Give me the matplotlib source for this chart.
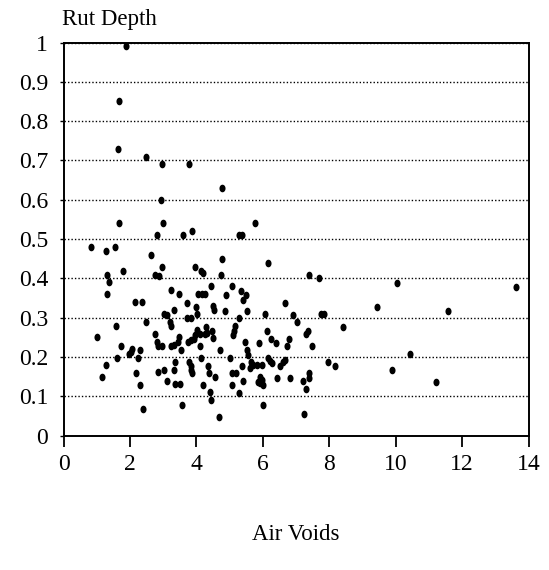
import matplotlib
matplotlib.use("Agg")
import matplotlib.pyplot as plt
import numpy as np

# air voids (%) and rut depth readings
air_voids = [
    1.88, 1.66, 1.64, 2.48, 2.96, 3.78, 4.78, 2.94, 1.66, 3.01,
    5.78, 2.81, 3.60, 3.88, 5.27, 5.37, 0.82, 1.28, 1.54, 2.64,
    4.77, 6.17, 1.79, 1.30, 1.38, 1.31, 2.76, 2.86, 2.96, 3.96,
    4.14, 4.21, 4.74, 7.39, 7.70, 4.44, 5.08, 3.23, 3.48, 4.06,
    4.16, 4.26, 4.90, 5.34, 5.49, 5.39, 2.16, 2.36, 3.73, 3.99,
    4.49, 4.54, 4.86, 3.32, 5.53, 6.66, 9.43, 3.04, 3.11, 4.03,
    6.07, 6.92, 7.74, 7.84, 2.48, 3.71, 3.85, 5.27, 3.21, 3.25,
    1.57, 4.29, 5.15, 7.02, 8.42, 5.12, 5.10, 4.01, 3.96, 3.93,
    2.75, 3.49, 4.11, 4.26, 4.33, 4.46, 4.51, 1.00, 2.81, 2.84,
    2.96, 3.24, 3.33, 3.46, 3.76, 3.83, 4.11, 5.45, 5.89, 6.14,
    6.24, 6.40, 6.80, 6.72, 7.30, 7.37, 7.48, 3.54, 1.72, 2.05,
    2.02, 1.97, 2.30, 4.71, 5.53, 5.56, 1.62, 2.25, 3.36, 3.79,
    3.83, 3.84, 3.88, 4.13, 4.34, 4.37, 5.02, 1.27, 1.17, 2.18,
    2.84, 3.03, 3.34, 4.56, 5.07, 5.18, 5.37, 5.63, 5.70, 5.62,
    5.82, 5.97, 6.17, 6.22, 6.27, 6.52, 6.60, 6.66, 7.96, 8.16,
    2.30, 3.11, 3.37, 3.51, 4.20, 5.08, 5.40, 5.92, 5.97, 5.92,
    6.00, 5.86, 6.43, 6.81, 7.20, 7.30, 7.39, 7.40, 4.42, 4.43,
    5.28, 3.56, 2.40, 4.67, 6.02, 7.25, 10.03, 11.57, 13.62, 10.44,
    9.90, 11.20,
]
rut_depth = [
    0.99, 0.85, 0.73, 0.71, 0.69, 0.69, 0.63, 0.60, 0.54, 0.54,
    0.54, 0.51, 0.51, 0.52, 0.51, 0.51, 0.48, 0.47, 0.48, 0.46,
    0.45, 0.44, 0.42, 0.41, 0.39, 0.36, 0.41, 0.406, 0.43, 0.43,
    0.42, 0.413, 0.41, 0.41, 0.40, 0.38, 0.38, 0.37, 0.36, 0.36,
    0.36, 0.36, 0.357, 0.369, 0.358, 0.346, 0.34, 0.34, 0.338, 0.328,
    0.33, 0.32, 0.317, 0.32, 0.317, 0.337, 0.327, 0.31, 0.307, 0.31,
    0.31, 0.307, 0.31, 0.31, 0.289, 0.299, 0.299, 0.299, 0.288, 0.278,
    0.279, 0.277, 0.28, 0.288, 0.277, 0.267, 0.255, 0.269, 0.256, 0.245,
    0.258, 0.25, 0.258, 0.258, 0.26, 0.266, 0.248, 0.25, 0.239, 0.229,
    0.229, 0.229, 0.231, 0.239, 0.239, 0.243, 0.229, 0.238, 0.237, 0.266,
    0.247, 0.237, 0.247, 0.227, 0.258, 0.267, 0.227, 0.218, 0.229, 0.221,
    0.213, 0.207, 0.218, 0.218, 0.218, 0.206, 0.198, 0.198, 0.188, 0.188,
    0.177, 0.167, 0.159, 0.198, 0.178, 0.16, 0.198, 0.179, 0.15, 0.16,
    0.162, 0.168, 0.167, 0.15, 0.16, 0.16, 0.177, 0.188, 0.18, 0.171,
    0.18, 0.18, 0.197, 0.19, 0.184, 0.178, 0.187, 0.193, 0.188, 0.177,
    0.129, 0.14, 0.131, 0.131, 0.13, 0.13, 0.139, 0.15, 0.142, 0.133,
    0.129, 0.137, 0.148, 0.148, 0.138, 0.118, 0.16, 0.147, 0.11, 0.09,
    0.108, 0.079, 0.069, 0.048, 0.078, 0.056, 0.388, 0.316, 0.378, 0.208,
    0.167, 0.137,
]

x_ticks = [0, 2, 4, 6, 8, 10, 12, 14]
y_ticks = [0, 0.1, 0.2, 0.3, 0.4, 0.5, 0.6, 0.7, 0.8, 0.9, 1]
y_tick_labels = ["0", "0.1", "0.2", "0.3", "0.4", "0.5", "0.6", "0.7", "0.8", "0.9", "1"]

plt.rcParams["font.family"] = ["Liberation Serif", "DejaVu Serif"]

# slightly tall oval dot
t = np.linspace(0, 2 * np.pi, 40)
oval = list(zip(0.8 * np.cos(t), np.sin(t)))

fig = plt.figure(figsize=(5.49, 5.70), dpi=100)
ax = fig.add_axes([0.1157, 0.2356, 0.8470, 0.6898])

ax.scatter(air_voids, rut_depth, s=30, c="black", marker=oval,
           linewidths=0, zorder=3)

ax.set_xlim(0, 14)
ax.set_ylim(0, 1)
ax.set_xticks(x_ticks)
ax.set_xticklabels([str(t) for t in x_ticks])
ax.set_yticks(y_ticks)
ax.set_yticklabels(y_tick_labels)

# dotted horizontal grid only
ax.yaxis.grid(True, linestyle=(0, (1, 1.5)), color="black", linewidth=1.0)
ax.xaxis.grid(False)
ax.set_axisbelow(True)

for side in ["left", "bottom", "top", "right"]:
    ax.spines[side].set_color("black")
    ax.spines[side].set_linewidth(1.4)

ax.tick_params(axis="x", direction="out", length=8, width=1.3, pad=5,
               labelsize=17, colors="black")
ax.tick_params(axis="y", direction="out", length=3, width=1.0, pad=8,
               labelsize=17, colors="black")

fig.text(0.113, 1 - 20 / 570, "Rut Depth", fontsize=16.5, ha="left", va="center")
fig.text(296 / 549, 1 - 535 / 570, "Air Voids", fontsize=16.5, ha="center", va="center")

fig.savefig("out.png", dpi=100)
